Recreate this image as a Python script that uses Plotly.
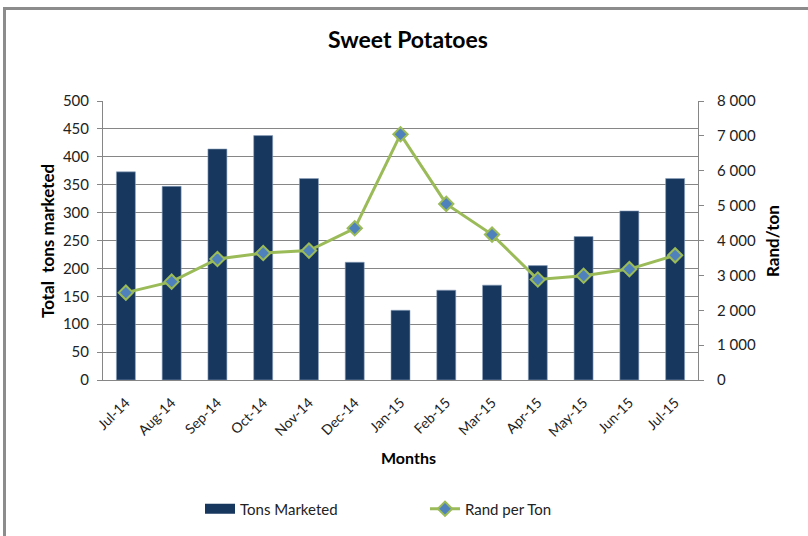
import plotly.graph_objects as go

months = ["Jul-14", "Aug-14", "Sep-14", "Oct-14", "Nov-14", "Dec-14", "Jan-15",
          "Feb-15", "Mar-15", "Apr-15", "May-15", "Jun-15", "Jul-15"]
tons_marketed = [373, 347, 414, 438, 361, 211, 125, 161, 170, 205, 257, 303, 361]
rand_per_ton = [2505, 2820, 3470, 3640, 3710, 4350, 7045, 5050, 4170, 2880, 2990, 3180, 3575]

W, H = 808, 536
L, R, T, B = 103, 698, 101, 380
FONT = "Lato, 'Open Sans', sans-serif"
NAVY = "#17375E"
GREEN = "#9BBB59"
BLUE = "#4F81BD"

def px2paper_x(px):
    return (px - L) / (R - L)

def px2paper_y(py):
    return (B - py) / (B - T)

fig = go.Figure()
fig.add_trace(go.Bar(
    x=months, y=tons_marketed, name="Tons Marketed",
    marker=dict(color=NAVY, line=dict(color="#8EA4BF", width=0.6)),
    yaxis="y", showlegend=False,
))
# legend proxy for the bar series (wide rectangle swatch)
fig.add_trace(go.Scatter(
    x=[None], y=[None], name="Tons Marketed", mode="lines",
    line=dict(color=NAVY, width=10), yaxis="y",
))
fig.add_trace(go.Scatter(
    x=months, y=rand_per_ton, name="Rand per Ton", mode="lines+markers",
    line=dict(color=GREEN, width=3),
    marker=dict(symbol="diamond", size=11, color=BLUE,
                line=dict(color=GREEN, width=2)),
    yaxis="y2",
))

fig.update_layout(
    width=W, height=H,
    margin=dict(l=L, r=W - R, t=T, b=H - B, pad=0),
    paper_bgcolor="white", plot_bgcolor="white",
    separators=". ",
    font=dict(family=FONT, size=15, color="#222222"),
    bargap=0.585,
    showlegend=True,
    title=dict(text="<b>Sweet Potatoes</b>", x=408 / W, xref="container", xanchor="center",
               y=1 - 40 / H, yref="container", yanchor="middle",
               font=dict(family=FONT, size=23, color="black")),
    xaxis=dict(type="category", range=[-0.5, len(months) - 0.5], tickangle=-45,
               showline=True, linecolor="#868686",
               linewidth=1, ticks="", tickfont=dict(size=14, color="#222222"),
               ticklabelstandoff=8, showgrid=False),
    yaxis=dict(range=[0, 500], dtick=50, showgrid=True, gridcolor="#868686", gridwidth=1,
               showline=True, linecolor="#868686", ticks="outside", ticklen=5,
               tickcolor="#868686", tickfont=dict(size=15), ticklabelstandoff=5,
               zeroline=False),
    yaxis2=dict(range=[0, 8000], dtick=1000, overlaying="y", side="right",
                showgrid=False, showline=True, linecolor="#868686", ticks="outside",
                ticklen=5, tickcolor="#868686", tickformat=",d",
                tickfont=dict(size=15), ticklabelstandoff=10, zeroline=False),
    legend=dict(orientation="h", x=425 / W, xref="container", xanchor="center",
                y=1 - 509 / H, yref="container", yanchor="middle",
                font=dict(size=15, color="#222222"), entrywidth=180,
                bgcolor="rgba(0,0,0,0)"),
)

for text, cx, cy, ang in [("<b>Months</b>", 408, 457, 0),
                          ("<b>Total  tons marketed</b>", 47, 241, -90),
                          ("<b>Rand/ton</b>", 772, 241, -90)]:
    fig.add_annotation(text=text, x=px2paper_x(cx), y=px2paper_y(cy), xref="paper",
                       yref="paper", xanchor="center", yanchor="middle", textangle=ang,
                       showarrow=False, font=dict(size=17 if ang else 16, color="black"))

# frame border (top and left)
fig.add_shape(type="line", xref="paper", yref="paper",
              x0=px2paper_x(3), x1=px2paper_x(W + 5), y0=px2paper_y(8.5), y1=px2paper_y(8.5),
              line=dict(color="#8C8C8C", width=3))
fig.add_shape(type="line", xref="paper", yref="paper",
              x0=px2paper_x(4.5), x1=px2paper_x(4.5), y0=px2paper_y(7), y1=px2paper_y(H + 5),
              line=dict(color="#8C8C8C", width=3))

fig.write_html("out.html")
